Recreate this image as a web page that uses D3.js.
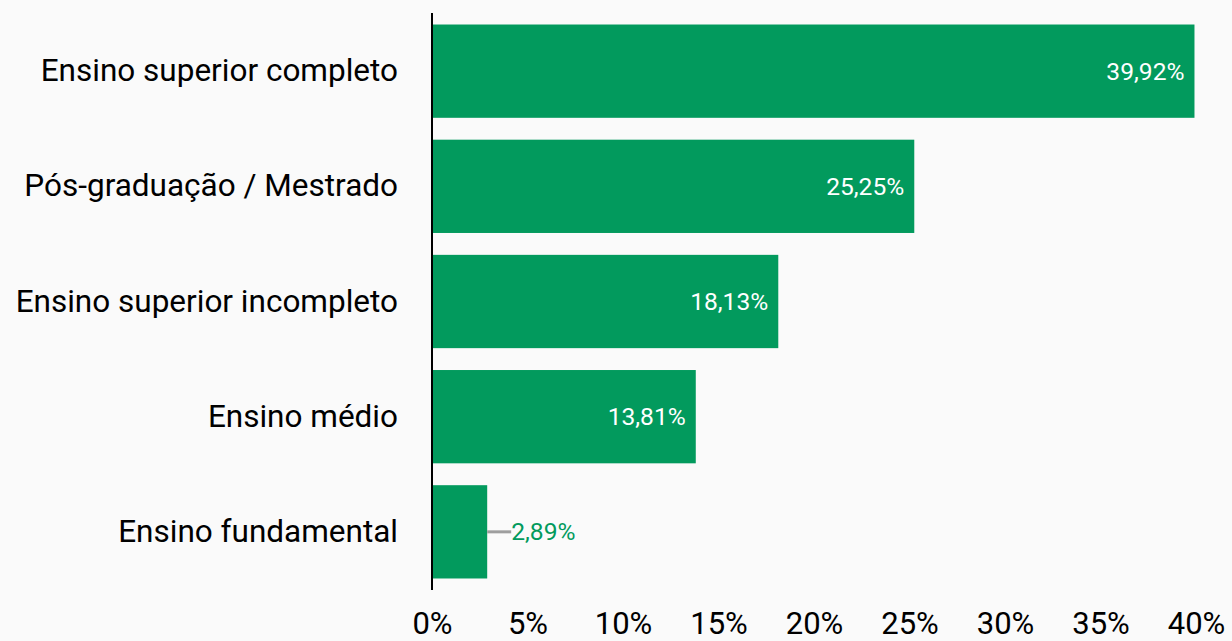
<!DOCTYPE html>
<html>
<head>
<meta charset="utf-8">
<script src="https://cdn.jsdelivr.net/npm/d3@7"></script>
<style>
  body { margin: 0; background: #fafafa; }
  svg { display: block; font-family: Roboto, sans-serif; }
</style>
</head>
<body>
<svg id="chart"></svg>
<script>
const categories = ["Ensino superior completo", "Pós-graduação / Mestrado", "Ensino superior incompleto", "Ensino médio", "Ensino fundamental"];
const values = [39.92, 25.25, 18.13, 13.81, 2.89];
const ticks = [0, 5, 10, 15, 20, 25, 30, 35, 40];

const width = 1232, height = 641;
const green = "#029a5d";
const fmt = v => v.toFixed(2).replace(".", ",") + "%";

const svg = d3.select("#chart").attr("width", width).attr("height", height);

const x = d3.scaleLinear().domain([0, 40]).range([432, 1196]);
const y = d3.scaleBand().domain(categories).range([13, 590]).paddingInner(0.19).paddingOuter(0.1);

const data = categories.map((c, i) => ({ cat: c, value: values[i] }));

svg.selectAll("rect.bar")
  .data(data)
  .join("rect")
  .attr("class", "bar")
  .attr("x", x(0))
  .attr("y", d => y(d.cat))
  .attr("width", d => x(d.value) - x(0))
  .attr("height", y.bandwidth())
  .attr("fill", green);

// value labels: inside for long bars, outside with leader for short ones
const inside = d => x(d.value) - x(0) > 120;
svg.selectAll("line.leader")
  .data(data.filter(d => !inside(d)))
  .join("line")
  .attr("x1", d => x(d.value))
  .attr("x2", d => x(d.value) + 24)
  .attr("y1", d => y(d.cat) + y.bandwidth() / 2)
  .attr("y2", d => y(d.cat) + y.bandwidth() / 2)
  .attr("stroke", "#9e9e9e")
  .attr("stroke-width", 3);

svg.selectAll("text.val")
  .data(data)
  .join("text")
  .attr("class", "val")
  .attr("x", d => inside(d) ? x(d.value) - 10 : x(d.value) + 24)
  .attr("y", d => y(d.cat) + y.bandwidth() / 2)
  .attr("dy", "0.35em")
  .attr("text-anchor", d => inside(d) ? "end" : "start")
  .attr("fill", d => inside(d) ? "#fff" : green)
  .style("font-size", "24.6px")
  .text(d => fmt(d.value));

// category labels
const yAxis = svg.append("g")
  .attr("transform", `translate(${x(0)},0)`)
  .call(d3.axisLeft(y).tickSize(0).tickPadding(34));
yAxis.select(".domain").remove();
yAxis.selectAll("text").style("font-size", "31.5px").attr("fill", "#000").attr("font-family", "Roboto, sans-serif");

// x axis ticks
const xAxis = svg.append("g")
  .attr("transform", `translate(0,602)`)
  .call(d3.axisBottom(x).tickValues(ticks).tickSize(0).tickPadding(10).tickFormat(d => d + "%"));
xAxis.select(".domain").remove();
xAxis.selectAll("text").style("font-size", "31px").attr("fill", "#000").attr("font-family", "Roboto, sans-serif");

// vertical axis line
svg.append("line")
  .attr("x1", x(0)).attr("x2", x(0))
  .attr("y1", 13).attr("y2", 590)
  .attr("stroke", "#000")
  .attr("stroke-width", 2);
</script>
</body>
</html>
